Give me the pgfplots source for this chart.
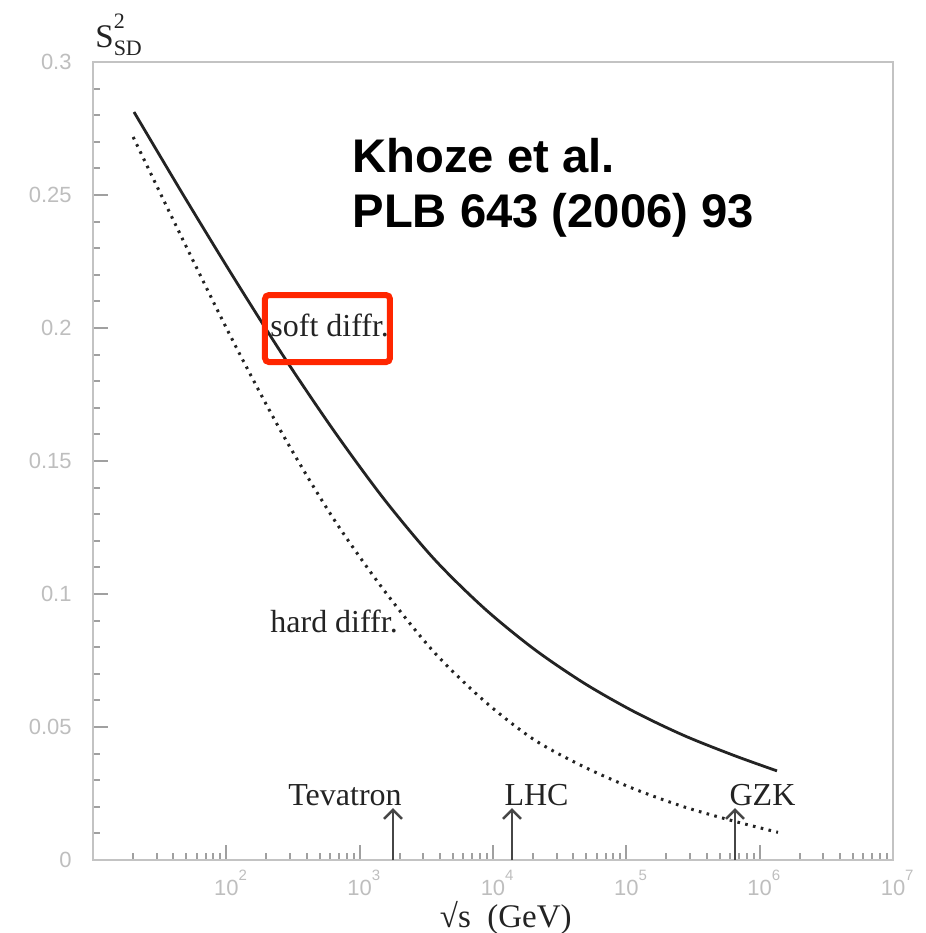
\documentclass[border=0pt]{standalone}
\usepackage{fontspec}
\setmainfont{Liberation Serif}
\setsansfont{Liberation Sans}
\usepackage{pgfplots}
\pgfplotsset{compat=1.18}
\usetikzlibrary{arrows.meta}
\definecolor{redbox}{RGB}{255,38,0}
\definecolor{axgray}{RGB}{195,195,195}
\definecolor{tickgray}{RGB}{160,160,160}
\definecolor{lblgray}{RGB}{190,190,190}
\definecolor{ink}{RGB}{35,35,35}
\definecolor{arrowgray}{RGB}{70,70,70}
\newcommand{\tl}[1]{{\sffamily\color{lblgray}\fontsize{11}{13}\selectfont #1}}
\newcommand{\ex}[1]{10\rlap{\raisebox{7.5pt}{\fontsize{7.5}{9}\selectfont #1}}}
\begin{document}
\begin{tikzpicture}
\useasboundingbox (-46.5pt,-36.5pt) rectangle (416.5pt,430pt);
\begin{axis}[
 scale only axis, width=400pt, height=399pt,
 xmode=log, xmin=10, xmax=1e7, ymin=0, ymax=0.3,
 axis line style={axgray, line width=1.4pt},
 tick align=inside, xtick pos=bottom, ytick pos=left,
 xtick={100,1000,10000,100000,1000000,10000000},
 xticklabels={\tl{\ex{2}},\tl{\ex{3}},\tl{\ex{4}},\tl{\ex{5}},\tl{\ex{6}},\tl{\ex{7}}},
 minor xtick={20,30,40,50,60,70,80,90,200,300,400,500,600,700,800,900,2000,3000,4000,5000,6000,7000,8000,9000,20000,30000,40000,50000,60000,70000,80000,90000,200000,300000,400000,500000,600000,700000,800000,900000,2000000,3000000,4000000,5000000,6000000,7000000,8000000,9000000},
 ytick={0,0.05,0.1,0.15,0.2,0.25,0.3},
 yticklabels={\tl{0},\tl{0.05},\tl{0.1},\tl{0.15},\tl{0.2},\tl{0.25},\tl{0.3}},
 minor ytick={0.01,0.02,0.03,0.04,0.06,0.07,0.08,0.09,0.11,0.12,0.13,0.14,0.16,0.17,0.18,0.19,0.21,0.22,0.23,0.24,0.26,0.27,0.28,0.29},
 major tick length=7.5pt, minor tick length=3.5pt,
 every tick/.style={tickgray, line width=1pt},
 xticklabel style={anchor=base, inner sep=0pt, yshift=-17.5pt},
 yticklabel style={anchor=east, inner sep=0pt, xshift=-10.5pt},
 clip=false,
]
% soft diffraction (solid)
\addplot[ink, line width=1.4pt, smooth] coordinates {
 (20.3,0.2812) (48.1,0.2496) (114.1,0.2188) (270.7,0.1891) (642.1,0.1613)
 (1522,0.1357) (3610,0.1132) (8561,0.0947) (20310,0.0793) (48150,0.0665)
 (114100,0.0558) (270700,0.0468) (642100,0.0393) (1349000,0.0335)};
% hard diffraction (dotted)
\addplot[ink, line width=1.5pt, dash pattern=on 1.3pt off 2.7pt, smooth] coordinates {
 (20,0.2718) (47.3,0.2331) (112.2,0.1951) (266.1,0.1598) (631,0.1286)
 (1496,0.1019) (3548,0.0786) (8414,0.0602) (19950,0.0455) (47320,0.0352)
 (112200,0.0269) (266100,0.0201) (631000,0.0147) (1373000,0.0104)};
% arrows
\addplot[arrowgray, line width=1.2pt, -{Straight Barb[length=4.5pt,width=9pt]}] coordinates {(1778,0) (1778,0.0195)};
\addplot[arrowgray, line width=1.2pt, -{Straight Barb[length=4.5pt,width=9pt]}] coordinates {(13880,0) (13880,0.0195)};
\addplot[arrowgray, line width=1.2pt, -{Straight Barb[length=4.5pt,width=9pt]}] coordinates {(653000,0) (653000,0.0195)};
\node[anchor=base, text=ink, font=\fontsize{16}{19}\selectfont] at (rel axis cs:0.315,0.0689) {Tevatron};
\node[anchor=base, text=ink, font=\fontsize{16}{19}\selectfont] at (rel axis cs:0.5544,0.0689) {LHC};
\node[anchor=base, text=ink, font=\fontsize{16}{19}\selectfont] at (rel axis cs:0.8369,0.0689) {GZK};
\node[anchor=base west, inner sep=0pt, text=ink, font=\fontsize{16}{19}\selectfont] at (rel axis cs:0.22125,0.6554) {soft diffr.};
\node[anchor=base west, inner sep=0pt, text=ink, font=\fontsize{16}{19}\selectfont] at (rel axis cs:0.22125,0.2857) {hard diffr.};
\draw[redbox, line width=3pt, rounded corners=2pt] (rel axis cs:0.215,0.708) rectangle (rel axis cs:0.37125,0.624);
\node[anchor=base west, inner sep=0pt, font=\sffamily\bfseries\fontsize{23.6}{28}\selectfont] at (rel axis cs:0.324,0.862) {Khoze et al.};
\node[anchor=base west, inner sep=0pt, font=\sffamily\bfseries\fontsize{23.6}{28}\selectfont] at (rel axis cs:0.324,0.792) {PLB 643 (2006) 93};
\node[anchor=base, inner sep=0pt, text=ink, font=\fontsize{16.5}{20}\selectfont] at (rel axis cs:0.516,-0.084) {√s\ \ (GeV)};
\node[anchor=base west, inner sep=0pt, text=ink] at (rel axis cs:0.0025,1.0188) {{\fontsize{16.5}{20}\selectfont S}\rlap{\raisebox{9.5pt}{\fontsize{11}{13}\selectfont 2}}\raisebox{-4pt}{\fontsize{11}{13}\selectfont SD}};
\end{axis}
\end{tikzpicture}
\end{document}
